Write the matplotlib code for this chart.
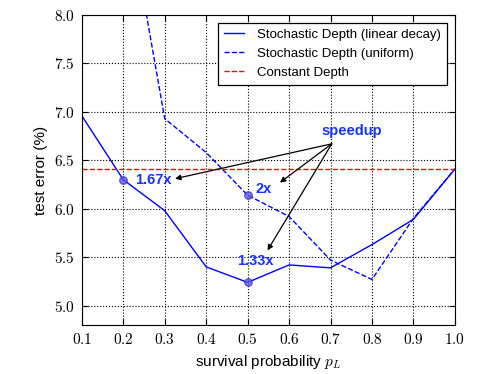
import matplotlib
matplotlib.use("Agg")
import matplotlib.pyplot as plt
from matplotlib.ticker import FormatStrFormatter, MultipleLocator

# ---- data -----------------------------------------------------------------
p_linear = [0.1, 0.2, 0.3, 0.4, 0.5, 0.6, 0.7, 0.8, 0.9, 1.0]
err_linear = [6.96, 6.30, 5.98, 5.40, 5.24, 5.42, 5.39, 5.63, 5.89, 6.41]

p_uniform = [0.2, 0.3, 0.4, 0.5, 0.6, 0.7, 0.8, 0.9, 1.0]
err_uniform = [9.36, 6.93, 6.58, 6.14, 5.92, 5.47, 5.27, 5.90, 6.41]

err_constant = 6.41

# highlighted points and their speedup labels
mark_p = [0.2, 0.5, 0.5]
mark_err = [6.30, 6.14, 5.24]
speed_labels = ["1.67x", "2x", "1.33x"]
label_xy = [(0.228, 6.30), (0.518, 6.20), (0.474, 5.46)]
arrow_tips = [(0.325, 6.31), (0.578, 6.27), (0.548, 5.57)]
arrow_tail = (0.703, 6.67)

plt.rcParams.update({
    "font.family": ["Liberation Sans", "DejaVu Sans"],
    "mathtext.fontset": "cm",
    "font.size": 10,
})

fig = plt.figure(figsize=(4.87, 3.74), dpi=100)
ax = fig.add_axes([0.168, 0.131, 0.766, 0.829])

ax.plot(p_linear, err_linear, "b-", lw=1.0, label="Stochastic Depth (linear decay)")
ax.plot(p_uniform, err_uniform, "b--", lw=1.0, label="Stochastic Depth (uniform)")
ax.axhline(err_constant, color="r", ls="--", lw=1.0, label="Constant Depth")

ax.scatter(mark_p, mark_err, s=30, color=(0.35, 0.35, 0.9), alpha=0.8,
           edgecolors=(0.2, 0.2, 0.7), linewidths=0.8, zorder=4)

for lab, (lx, ly) in zip(speed_labels, label_xy):
    ax.text(lx, ly, lab, color=(0.1, 0.2, 1.0), fontweight="bold",
            fontsize=10.5, ha="left", va="center")

ax.text(0.751, 6.80, "speedup", color=(0.1, 0.2, 1.0), fontweight="bold",
        fontsize=10.5, ha="center", va="center")
for tip in arrow_tips:
    ax.annotate("", xy=tip, xytext=arrow_tail,
                arrowprops=dict(arrowstyle="-|>", color="k", lw=0.9,
                                mutation_scale=8, shrinkA=0, shrinkB=0))

ax.set_xlim(0.1, 1.0)
ax.set_ylim(4.8, 8.0)
ax.xaxis.set_major_locator(MultipleLocator(0.1))
ax.yaxis.set_major_locator(MultipleLocator(0.5))
ax.xaxis.set_major_formatter(FormatStrFormatter("$%.1f$"))
ax.yaxis.set_major_formatter(FormatStrFormatter("$%.1f$"))
ax.tick_params(direction="in", top=True, right=True, length=4, labelsize=11, pad=5)
ax.grid(True, color="k", ls=":", lw=0.8)

ax.set_xlabel("survival probability $p_L$", fontsize=11)
ax.set_ylabel("test error (%)", fontsize=11)

leg = ax.legend(loc="upper right", fontsize=9.5, fancybox=False,
                edgecolor="k", framealpha=1, borderaxespad=0.6,
                handlelength=1.5, handletextpad=1.0, borderpad=0.45)
leg.get_frame().set_linewidth(0.9)

fig.savefig("out.png", dpi=100)
